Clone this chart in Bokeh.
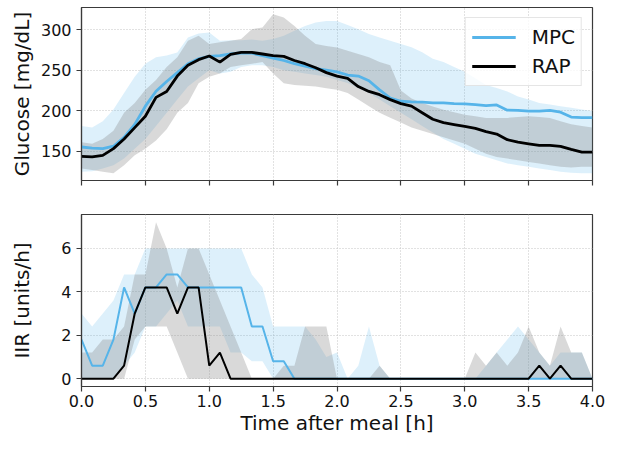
from bokeh.plotting import figure
from bokeh.layouts import column
from bokeh.models import ColumnDataSource, FixedTicker, PrintfTickFormatter, Range1d
from bokeh.embed import file_html
from bokeh.resources import INLINE

# ---- data ----
minutes = [0, 5, 10, 15, 20, 25, 30, 35, 40, 45, 50, 55, 60, 65, 70, 75, 80, 85, 90, 95,
           100, 105, 110, 115, 120, 125, 130, 135, 140, 145, 150, 155, 160, 165, 170, 175,
           180, 185, 190, 195, 200, 205, 210, 215, 220, 225, 230, 235, 240]

glu_mpc = [155, 153.6, 153, 156, 167, 183, 205.5, 224, 236, 247, 258, 264, 267, 268, 270, 271.5,
           271, 268, 265, 262, 258, 255, 252, 250, 248, 244, 242.7, 237, 225.7, 215.6, 211.6,
           210.8, 210.4, 209.5, 209.5, 208.7, 208.3, 207.5, 206.3, 207, 200.6, 200.2, 199.4,
           199.4, 200.2, 198, 192, 191.3, 191.3]
glu_mpc_hi = [181, 179, 187, 201.5, 221.7, 242, 258, 266, 268, 272, 290.5, 295.4, 296.6, 286.5,
              287, 287, 288, 286.5, 288.5, 292.6, 298.6, 304.7, 308.8, 310.8, 310.8, 306, 300.7,
              294.6, 290.5, 286.5, 282.4, 278.4, 272.3, 264.2, 260, 254, 248, 240, 231.8, 228,
              223.7, 217.6, 213.6, 209.5, 207.5, 205.5, 203.5, 201.4, 199.4]
glu_mpc_lo = [124.5, 125, 128.5, 132.6, 140.7, 152.8, 165, 181, 197.4, 213.6, 229.8, 240, 250,
              246, 248, 254, 256, 256, 254, 250, 248, 246, 244, 242, 238, 234, 227.8, 221.7,
              213.6, 205.5, 197.4, 189.3, 181, 173, 165, 159, 152.8, 146.8, 142.7, 138.7, 134.6,
              132.6, 130.5, 128.5, 126.5, 124.5, 123.3, 122.5, 122.5]

glu_rap = [143.5, 142.7, 144.7, 153, 165, 179, 193, 216.4, 223.7, 242.7, 256, 263, 267.5, 260,
           269.5, 272, 272, 270, 268, 267, 262, 258, 253, 247, 242.7, 240, 229.8, 223.7, 219.7,
           213.6, 208.7, 205.5, 197.4, 189.3, 185.2, 182.8, 180.4, 178, 174, 171, 164, 161, 159,
           157, 157, 155.7, 152, 148.8, 148.8]
glu_rap_hi = [161, 159, 165, 175, 197.4, 209.5, 225.7, 238, 254, 266, 286.5, 292.6, 282.4, 284.5,
              286.5, 288.5, 300.7, 302.7, 319, 315, 304.7, 292.6, 282.4, 280, 278, 274, 270, 266,
              260, 256, 225, 215, 209.5, 205, 201, 198, 195, 193, 191, 191, 191, 192, 193, 192,
              191, 187, 183, 181, 179]
glu_rap_lo = [128.5, 126.5, 124.5, 122.5, 132.6, 144.7, 152.8, 163, 177, 197.4, 209.5, 233.8, 242,
              246, 254, 256, 258, 260, 246, 233.8, 231.8, 230.6, 229.8, 227.8, 225.7, 221.7, 213.6,
              205.5, 197.4, 191.3, 185.2, 179, 175, 171, 167, 163, 159, 152.8, 146.8, 142.7,
              140.7, 138.7, 136.6, 134.6, 132.6, 130.5, 129.7, 130.5, 130.5]

iir_mpc = [1.8, 0.6, 0.6, 1.8, 4.2, 3.0, 4.2, 4.2, 4.8, 4.8, 4.2, 4.2, 4.2, 4.2, 4.2, 4.2, 2.4,
           2.4, 0.8, 0.8, 0, 0, 0, 0, 0, 0, 0, 0, 0, 0, 0, 0, 0, 0, 0, 0, 0, 0, 0, 0, 0, 0, 0,
           0, 0, 0, 0, 0, 0]
iir_mpc_hi = [3.0, 2.4, 3.0, 3.6, 4.8, 4.8, 6.0, 6.0, 6.0, 6.0, 6.0, 6.0, 6.0, 6.0, 6.0, 6.0, 4.8,
              4.2, 2.4, 2.4, 2.4, 2.4, 1.8, 1.0, 1.2, 0, 0.6, 2.4, 0.6, 0, 0, 0, 0, 0, 0, 0, 0,
              0, 0.6, 1.2, 1.8, 2.4, 1.8, 1.2, 0.6, 1.2, 1.2, 1.2, 0]
iir_mpc_lo = [0, 0, 0, 0, 0.6, 1.2, 2.4, 2.4, 3.0, 3.6, 2.4, 2.4, 2.4, 2.4, 1.2, 1.2, 0.8, 0.8,
              0, 0, 0, 0, 0, 0, 0, 0, 0, 0, 0, 0, 0, 0, 0, 0, 0, 0, 0, 0, 0, 0, 0, 0, 0, 0, 0, 0,
              0, 0, 0]

iir_rap = [0, 0, 0, 0, 0.6, 3.0, 4.2, 4.2, 4.2, 3.0, 4.2, 4.2, 0.6, 1.2, 0, 0, 0, 0, 0, 0, 0, 0,
           0, 0, 0, 0, 0, 0, 0, 0, 0, 0, 0, 0, 0, 0, 0, 0, 0, 0, 0, 0, 0, 0.6, 0, 0.6, 0, 0, 0]
iir_rap_hi = [1.2, 1.2, 1.8, 1.8, 2.4, 4.8, 4.8, 7.2, 6.0, 4.2, 6.0, 6.0, 4.8, 3.6, 2.4, 1.2, 0,
              0, 0, 0.6, 0.6, 2.4, 2.4, 2.4, 0, 0, 0, 0, 0.6, 0, 0, 0, 0, 0, 0, 0, 0, 1.2, 0.6,
              1.2, 0.6, 1.2, 2.4, 1.2, 0.6, 2.4, 1.2, 1.2, 0]
iir_rap_lo = [0, 0, 0, 0, 0, 1.8, 2.4, 2.4, 2.4, 1.2, 0, 0, 0, 0, 0, 0, 0, 0, 0, 0, 0, 0, 0, 0,
              0, 0, 0, 0, 0, 0, 0, 0, 0, 0, 0, 0, 0, 0, 0, 0, 0, 0, 0, 0, 0, 0, 0, 0, 0]

x_ticks = [0.0, 0.5, 1.0, 1.5, 2.0, 2.5, 3.0, 3.5, 4.0]
glu_ticks = [150, 200, 250, 300]
iir_ticks = [0, 2, 4, 6]

# ---- style ----
BLUE = "#56B4E9"
FONT = "DejaVu Sans"
SPINE = "#3a3a3a"
GRID = "#c4c4c4"
W = 605
BL, BR = 81, 13

hours = [m / 60 for m in minutes]
src = ColumnDataSource(dict(
    t=hours,
    glu_mpc=glu_mpc, glu_mpc_hi=glu_mpc_hi, glu_mpc_lo=glu_mpc_lo,
    glu_rap=glu_rap, glu_rap_hi=glu_rap_hi, glu_rap_lo=glu_rap_lo,
    iir_mpc=iir_mpc, iir_mpc_hi=iir_mpc_hi, iir_mpc_lo=iir_mpc_lo,
    iir_rap=iir_rap, iir_rap_hi=iir_rap_hi, iir_rap_lo=iir_rap_lo,
))


def style(p, yticks, ylabel, label_standoff, show_x_labels):
    p.outline_line_color = SPINE
    p.outline_line_width = 1.2
    for ax in (p.xaxis[0], p.yaxis[0]):
        ax.axis_line_color = SPINE
        ax.axis_line_width = 1.2
        ax.major_tick_line_color = SPINE
        ax.major_tick_line_width = 1.2
        ax.major_tick_out = 5
        ax.major_tick_in = 0
        ax.minor_tick_line_color = None
        ax.major_label_text_font = FONT
        ax.major_label_text_font_size = "16px"
        ax.major_label_text_color = "#111111"
        ax.axis_label_text_font = FONT
        ax.axis_label_text_font_size = "20px"
        ax.axis_label_text_font_style = "normal"
        ax.axis_label_text_color = "#111111"
    p.xaxis.ticker = FixedTicker(ticks=x_ticks)
    p.xaxis.formatter = PrintfTickFormatter(format="%.1f")
    p.yaxis.ticker = FixedTicker(ticks=yticks)
    p.yaxis.axis_label = ylabel
    p.yaxis.major_label_standoff = 5
    p.yaxis.axis_label_standoff = label_standoff
    if show_x_labels:
        p.xaxis.axis_label = "Time after meal [h]"
        p.xaxis.major_label_standoff = 3
        p.xaxis.axis_label_standoff = 1
    else:
        p.xaxis.major_label_text_color = None
        p.xaxis.major_label_text_font_size = "1px"
        p.xaxis.major_label_standoff = 0
    p.grid.grid_line_color = GRID
    p.grid.grid_line_dash = "1 2"
    p.grid.grid_line_width = 1
    p.background_fill_color = "white"
    p.border_fill_color = "white"


top = figure(width=W, height=197, output_backend="svg", toolbar_location=None,
             x_range=Range1d(0, 4), y_range=Range1d(113.6, 327.5),
             min_border_left=BL, min_border_right=BR, min_border_top=7, min_border_bottom=17)
top.varea(x="t", y1="glu_mpc_lo", y2="glu_mpc_hi", source=src, fill_color=BLUE, fill_alpha=0.2)
top.varea(x="t", y1="glu_rap_lo", y2="glu_rap_hi", source=src, fill_color="gray", fill_alpha=0.3)
top.line(x="t", y="glu_mpc", source=src, line_color=BLUE, line_width=2.8, legend_label="MPC")
top.line(x="t", y="glu_rap", source=src, line_color="black", line_width=2.8, legend_label="RAP")
style(top, glu_ticks, "Glucose [mg/dL]", 4, False)
lg = top.legend[0]
lg.location = "top_right"
lg.margin = 10
lg.padding = 6
lg.spacing = 3
lg.glyph_width = 44
lg.glyph_height = 26
lg.label_height = 26
lg.label_standoff = 16
lg.label_text_font = FONT
lg.label_text_font_size = "20px"
lg.label_text_color = "#111111"
lg.border_line_color = "#cccccc"
lg.border_line_width = 1
lg.background_fill_alpha = 0.8

bot = figure(width=W, height=241, output_backend="svg", toolbar_location=None,
             x_range=Range1d(0, 4), y_range=Range1d(-0.36, 7.56),
             min_border_left=BL, min_border_right=BR, min_border_top=17, min_border_bottom=52)
bot.varea(x="t", y1="iir_mpc_lo", y2="iir_mpc_hi", source=src, fill_color=BLUE, fill_alpha=0.2)
bot.varea(x="t", y1="iir_rap_lo", y2="iir_rap_hi", source=src, fill_color="gray", fill_alpha=0.3)
bot.line(x="t", y="iir_mpc", source=src, line_color=BLUE, line_width=2)
bot.line(x="t", y="iir_rap", source=src, line_color="black", line_width=2)
style(bot, iir_ticks, "IIR [units/h]", 24, True)

layout = column(top, bot, spacing=0)
open("out.html", "w").write(file_html(layout, INLINE))
